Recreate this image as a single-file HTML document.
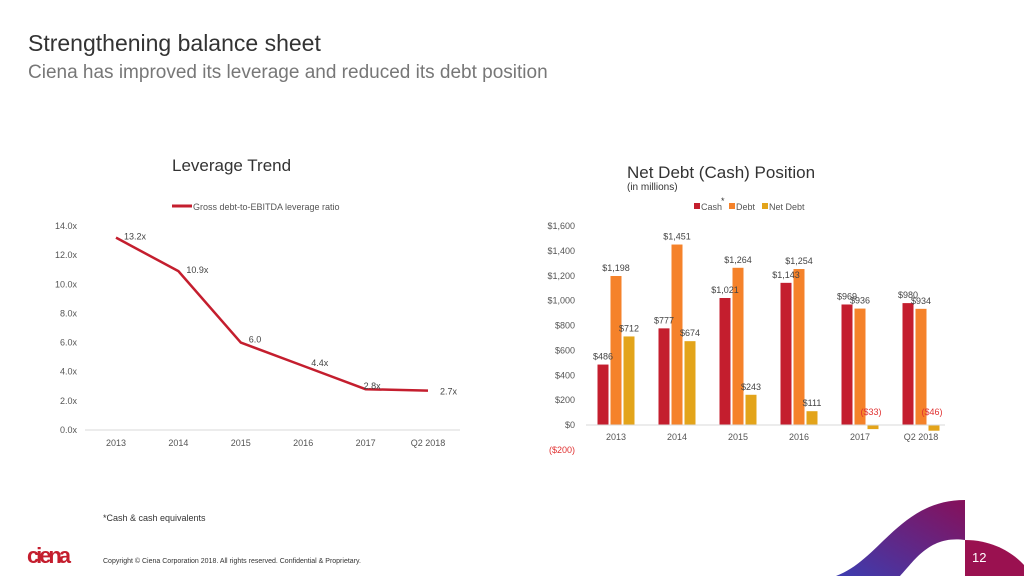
<!DOCTYPE html>
<html><head><meta charset="utf-8">
<style>
body{margin:0;width:1024px;height:576px;overflow:hidden;background:#fff;font-family:"Liberation Sans",Arial,sans-serif;position:relative}
.t{position:absolute;white-space:nowrap}
</style></head><body>
<div class="t" style="left:28px;top:30px;font-size:23px;color:#333">Strengthening balance sheet</div>
<div class="t" style="left:28px;top:62px;font-size:19px;color:#777">Ciena has improved its leverage and reduced its debt position</div>
<svg width="1024" height="576" style="position:absolute;left:0;top:0">
<defs><linearGradient id="g1" x1="0" y1="1" x2="1" y2="0"><stop offset="0" stop-color="#3d3db0"/><stop offset="1" stop-color="#86105a"/></linearGradient></defs>
<path d="M836,576 C880,560 900,500 965,500 L965,540 C930,535 915,560 900,576 Z" fill="url(#g1)"/>
<path d="M965,540 C995,540 1015,555 1024,565 L1024,576 L965,576 Z" fill="#9a1150"/>
<text x="972" y="562" font-size="13" fill="#fff">12</text>
<g id="left"></g><g id="right"></g><g id="rlabels"></g>
<text x="172" y="171" font-size="17" fill="#333">Leverage Trend</text>
<text x="627" y="178" font-size="17" fill="#333">Net Debt (Cash) Position</text>
<text x="627" y="190" font-size="10" fill="#333">(in millions)</text>
<line x1="172" y1="206" x2="192" y2="206" stroke="#c41e2e" stroke-width="3"/>
<text x="193" y="210" font-size="9" fill="#555">Gross debt-to-EBITDA leverage ratio</text>
<text x="103" y="521" font-size="9" fill="#333">*Cash &amp; cash equivalents</text>
<text x="27" y="563" font-size="22" font-weight="bold" fill="#c41e2e" textLength="44">ciena</text>
<text x="103" y="563" font-size="7" fill="#333">Copyright © Ciena Corporation 2018. All rights reserved. Confidential &amp; Proprietary.</text>
</svg>
<script>
const NS="http://www.w3.org/2000/svg";
function mk(p,tag,a,txt){const e=document.createElementNS(NS,tag);for(const k in a)e.setAttribute(k,a[k]);if(txt!==undefined)e.textContent=txt;p.appendChild(e);return e;}
// left chart data
const levCats=["2013","2014","2015","2016","2017","Q2 2018"];
const levVals=[13.2,10.9,6.0,4.4,2.8,2.7];
const levLabels=["13.2x","10.9x","6.0","4.4x","2.8x","2.7x"];
const levTicks=[0,2,4,6,8,10,12,14];
// right chart data
const ndCats=["2013","2014","2015","2016","2017","Q2 2018"];
const cashVals=[486,777,1021,1143,969,980];
const debtVals=[1198,1451,1264,1254,936,934];
const netVals=[712,674,243,111,-33,-46];
const ndTicks=[0,200,400,600,800,1000,1200,1400,1600];

const L=document.getElementById('left');
const ly=v=>430-v*(204/14), lx=i=>116+i*62.4;
levTicks.forEach(t=>{const e=mk(L,'text',{x:77,y:ly(t)+3,'font-size':9,fill:'#555','text-anchor':'end'},t.toFixed(1)+'x');

});
const ax=mk(L,'line',{x1:85,y1:430,x2:460,y2:430,stroke:'#d9d9d9'});


levCats.forEach((c,i)=>{const e=mk(L,'text',{x:lx(i),y:446,'font-size':9,fill:'#555','text-anchor':'middle'},c);

});
const pl=mk(L,'polyline',{points:levVals.map((v,i)=>lx(i)+','+ly(v)).join(' '),fill:'none',stroke:'#c41e2e','stroke-width':2.5});


levVals.forEach((v,i)=>{const dx=i==5?12:(i==4?-2:8);const e=mk(L,'text',{x:lx(i)+dx,y:ly(v)+(i==5?4:(i<2?2:0)),'font-size':9,fill:'#444'},levLabels[i]);

});

const R=document.getElementById('right');
const RL=document.getElementById('rlabels');
const ry=v=>425-v*(199/1600), rx=i=>616+i*61;
ndTicks.forEach(t=>{const e=mk(R,'text',{x:575,y:ry(t)+3,'font-size':9,fill:'#555','text-anchor':'end'},'$'+t.toLocaleString('en-US'));

});
const m2=mk(R,'text',{x:575,y:453,'font-size':9,fill:'#e03030','text-anchor':'end'},'($200)');


const series=[[cashVals,'#c41e2e',-13],[debtVals,'#f5822a',0],[netVals,'#e3a41a',13]];
series.forEach(([vals,col,off],s)=>{vals.forEach((v,i)=>{const x=rx(i)+off-5.5;const y=Math.min(ry(v),ry(0));
const b=mk(R,'rect',{x:x,y:y,width:11,height:Math.abs(ry(v)-ry(0)),fill:col});


const neg=v<0;const lab=neg?'($'+(-v)+')':'$'+v.toLocaleString('en-US');
const t=mk(RL,'text',{x:x+5.5+(neg?-2:0),y:neg?ry(0)-10:ry(v)-5,'font-size':9,fill:neg?'#e03030':'#444','text-anchor':'middle'},lab);

});});
const ax2=mk(R,'line',{x1:586,y1:425,x2:945,y2:425,stroke:'#d9d9d9'});


ndCats.forEach((c,i)=>{const e=mk(R,'text',{x:rx(i),y:440,'font-size':9,fill:'#555','text-anchor':'middle'},c);

});
[['Cash','#c41e2e',694],['Debt','#f5822a',729],['Net Debt','#e3a41a',762]].forEach(([n,c,x])=>{
const r=mk(R,'rect',{x:x,y:203,width:6,height:6,fill:c});


const t=mk(R,'text',{x:x+7,y:210,'font-size':9,fill:'#555'},n);

});
mk(R,'text',{x:721,y:204,'font-size':9,fill:'#333'},'*');
</script>
</body></html>
